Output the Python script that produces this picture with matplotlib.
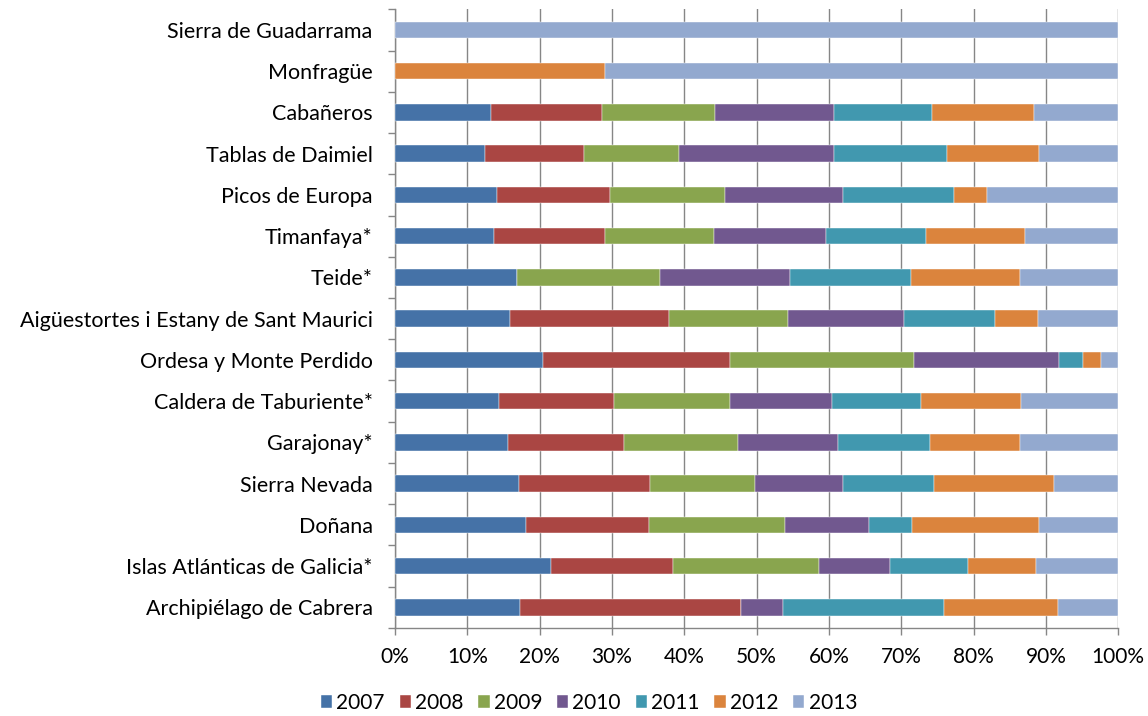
import numpy as np
import matplotlib.pyplot as plt

plt.rcParams['font.family'] = ['Lato', 'DejaVu Sans']

# categorías (de arriba a abajo)
parques = ['Sierra de Guadarrama', 'Monfragüe', 'Cabañeros', 'Tablas de Daimiel',
           'Picos de Europa', 'Timanfaya*', 'Teide*',
           'Aigüestortes i Estany de Sant Maurici', 'Ordesa y Monte Perdido',
           'Caldera de Taburiente*', 'Garajonay*', 'Sierra Nevada', 'Doñana',
           'Islas Atlánticas de Galicia*', 'Archipiélago de Cabrera']

anios = ['2007', '2008', '2009', '2010', '2011', '2012', '2013']

# porcentajes por año
v2007 = [0, 0, 13.3, 12.5, 14.1, 13.7, 16.9, 15.9, 20.5, 14.4, 15.6, 17.2, 18.1, 21.6, 17.3]
v2008 = [0, 0, 15.3, 13.7, 15.6, 15.3, 0.0, 22.0, 25.9, 15.9, 16.1, 18.1, 17.1, 16.9, 30.5]
v2009 = [0, 0, 15.7, 13.1, 15.9, 15.1, 19.8, 16.5, 25.4, 16.1, 15.8, 14.5, 18.7, 20.2, 0.0]
v2010 = [0, 0, 16.4, 21.4, 16.4, 15.5, 17.9, 16.0, 20.0, 14.1, 13.7, 12.1, 11.6, 9.7, 5.8]
v2011 = [0, 0, 13.6, 15.7, 15.3, 13.9, 16.7, 12.6, 3.3, 12.3, 12.8, 12.7, 6.0, 10.9, 22.3]
v2012 = [0, 29.0, 14.0, 12.7, 4.5, 13.6, 15.1, 5.9, 2.5, 13.7, 12.4, 16.5, 17.6, 9.3, 15.8]
v2013 = [100, 71.0, 11.7, 10.9, 18.2, 12.9, 13.6, 11.1, 2.4, 13.5, 13.6, 8.9, 10.9, 11.4, 8.3]

colores = ['#4572A7', '#AA4643', '#89A54E', '#71588F', '#4198AF', '#DB843D', '#93A9CF']

series = np.array([v2007, v2008, v2009, v2010, v2011, v2012, v2013], dtype=float)
series = series / series.sum(axis=0)  # normalizar a 100%

fig, ax = plt.subplots(figsize=(11.48, 7.16), dpi=100)
fig.subplots_adjust(left=0.344, right=0.974, top=0.987, bottom=0.123)

y = np.arange(len(parques))
izq = np.zeros(len(parques))
for i, anio in enumerate(anios):
    ax.barh(y, series[i], left=izq, height=0.4, color=colores[i], label=anio,
            edgecolor='white', linewidth=0.3, zorder=3)
    izq += series[i]

ax.set_xlim(0, 1)
ax.set_ylim(len(parques) - 0.5, -0.5)

ax.set_xticks(np.linspace(0, 1, 11))
ax.set_xticklabels([f'{int(round(t * 100))}%' for t in np.linspace(0, 1, 11)])
ax.set_yticks(y)
ax.set_yticklabels(parques)
ax.set_yticks(np.arange(-0.5, len(parques), 1), minor=True)

ax.tick_params(axis='y', which='major', length=0, pad=16, labelsize=15.5, colors='black')
ax.tick_params(axis='y', which='minor', length=5, width=1, color='#868686')
ax.tick_params(axis='x', which='major', length=5, width=1, color='#868686', pad=9, labelsize=15)

ax.grid(True, axis='x', color='#868686', linewidth=1, zorder=0)
for s in ['top', 'right']:
    ax.spines[s].set_visible(False)
for s in ['left', 'bottom']:
    ax.spines[s].set_color('#868686')
    ax.spines[s].set_linewidth(1)

fig.legend(loc='lower center', bbox_to_anchor=(0.513, -0.022), ncol=7, frameon=False,
           fontsize=15, handlelength=0.55, handleheight=0.55, handletextpad=0.2,
           columnspacing=0.7)

plt.savefig('out.png', dpi=100)
